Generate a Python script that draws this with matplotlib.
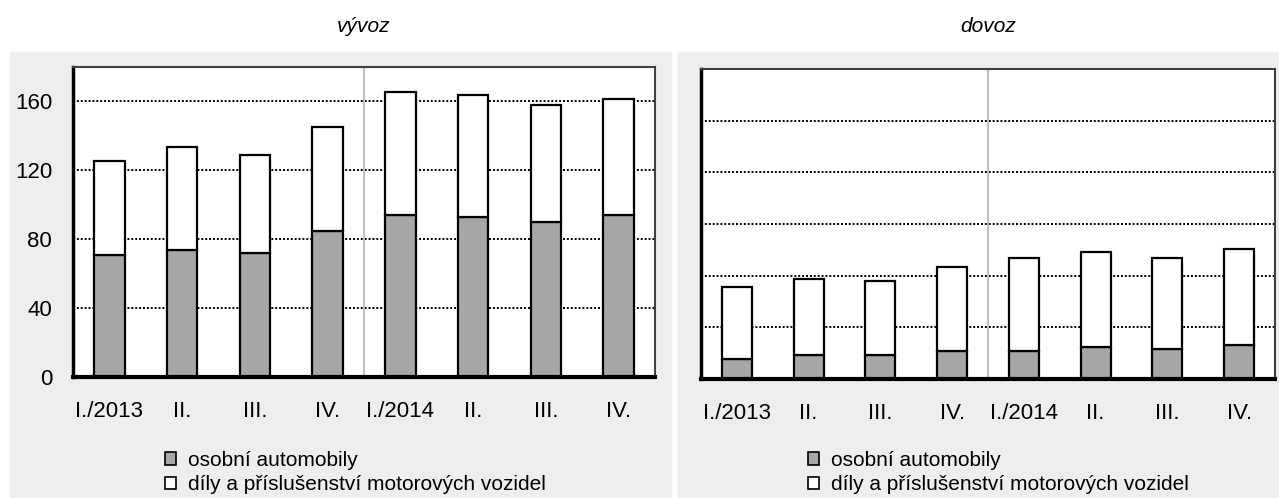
import numpy as np
import matplotlib.pyplot as plt
from matplotlib.patches import Rectangle, Patch

plt.rcParams['font.family'] = ['Liberation Sans', 'DejaVu Sans']

# data
quarters = ["I./2013", "II.", "III.", "IV.", "I./2014", "II.", "III.", "IV."]

vyvoz_auta = [71, 74, 72, 85, 94, 93, 90, 94]
vyvoz_celkem = [125.5, 133.5, 129, 145, 165.5, 164, 158, 161.5]

dovoz_auta = [11.5, 14, 14, 16.5, 16.5, 18.5, 17.5, 19.5]
dovoz_celkem = [53.5, 58, 57, 65, 70, 73.5, 70, 75.5]

labels = ["osobní automobily", "díly a příslušenství motorových vozidel"]
titles = ["vývoz", "dovoz"]

W, H = 1279, 498
fig = plt.figure(figsize=(W / 100, H / 100), dpi=100)

# grey panel backgrounds
fig.patches.append(Rectangle((10 / W, 0), 661 / W, (H - 52) / H,
                             transform=fig.transFigure, color='#eeeeee', zorder=-5))
fig.patches.append(Rectangle((678 / W, 0), 601 / W, (H - 52) / H,
                             transform=fig.transFigure, color='#eeeeee', zorder=-5))

ax1 = fig.add_axes([73 / W, (H - 377) / H, 582 / W, 310 / H])
ax2 = fig.add_axes([701 / W, (H - 379) / H, 574 / W, 310 / H])

x = np.arange(len(quarters))
dark = '#a6a6a6'

panels = [(ax1, vyvoz_auta, vyvoz_celkem, [40, 80, 120, 160], True, 364),
          (ax2, dovoz_auta, dovoz_celkem, [30, 60, 90, 120, 150, 180], False, 988)]

for i, (ax, auta, celkem, gl, show_y, tx) in enumerate(panels):
    ax.set_zorder(2)
    ax.set_facecolor('white')
    dily = np.array(celkem) - np.array(auta)
    ax.bar(x, auta, width=0.42, color=dark, edgecolor='black', linewidth=1.6, zorder=3)
    ax.bar(x, dily, bottom=auta, width=0.42, color='white', edgecolor='black',
           linewidth=1.6, zorder=3)
    ax.set_xlim(-0.5, 7.5)
    ax.set_ylim(0, 180)
    for g in gl:
        ax.axhline(g, color='black', lw=1.4, linestyle=(0, (1, 1)), zorder=1)
    ax.axvline(3.5, color='#c0c0c0', lw=1.5, zorder=2)
    ax.set_xticks(x)
    ax.set_xticklabels(quarters, fontsize=16)
    if show_y:
        ax.set_yticks([0, 40, 80, 120, 160])
        ax.tick_params(axis='y', labelsize=16, length=0, pad=15)
    else:
        ax.set_yticks([])
    ax.tick_params(axis='x', length=0, pad=17.5)
    ax.spines['left'].set_linewidth(2.5)
    ax.spines['bottom'].set_linewidth(3)
    ax.spines['bottom'].set_zorder(4)
    for s in ['top', 'right']:
        ax.spines[s].set_linewidth(1.5)
        ax.spines[s].set_color('#404040')
    fig.text(tx / W, 1 - 26 / H, titles[i], fontsize=15, style='italic',
             ha='center', va='center')

    handles = [Patch(facecolor=dark, edgecolor='black', linewidth=1.2),
               Patch(facecolor='white', edgecolor='black', linewidth=1.2)]
    lx = (165 if i == 0 else 808) / W
    ax.legend(handles, labels, loc='upper left', bbox_to_anchor=(lx, 47 / H),
              bbox_transform=fig.transFigure, frameon=False, fontsize=15,
              handlelength=0.55, handleheight=0.55, handletextpad=0.55,
              labelspacing=0.25, borderpad=0, borderaxespad=0)

fig.savefig("out.png", dpi=100)
